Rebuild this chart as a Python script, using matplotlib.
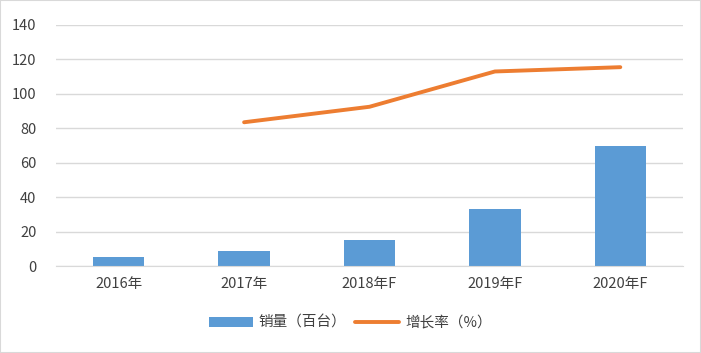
import matplotlib
matplotlib.use("Agg")
import matplotlib.pyplot as plt
from matplotlib.patches import Rectangle

plt.rcParams['font.family'] = ['Noto Sans CJK SC', 'DejaVu Sans']

categories = ["2016年", "2017年", "2018年F", "2019年F", "2020年F"]
sales = [5, 8.5, 15, 33, 69.5]
growth = [None, 83.5, 92.5, 113, 115.5]
yticks = [0, 20, 40, 60, 80, 100, 120, 140]

fig = plt.figure(figsize=(7.01, 3.53), dpi=100)
ax = fig.add_axes([56/701, 1-266/353, (683-56)/701, (266-25)/353])

x = list(range(len(categories)))
bars = ax.bar(x, sales, width=0.41, color='#5B9BD5', label='销量（百台）', zorder=2)
gx = [i for i, g in zip(x, growth) if g is not None]
gy = [g for g in growth if g is not None]
line, = ax.plot(gx, gy, color='#ED7D31', linewidth=2.8, label='增长率（%）', zorder=3,
                solid_capstyle='round')

ax.set_xlim(-0.5, len(categories) - 0.5)
ax.set_ylim(0, 140)
ax.set_yticks(yticks)
ax.set_xticks(x)
ax.set_xticklabels(categories)
ax.yaxis.grid(True, color='#D9D9D9', linewidth=1, zorder=0)
for s in ['top', 'right', 'left']:
    ax.spines[s].set_visible(False)
ax.spines['bottom'].set_color('#D9D9D9')
ax.tick_params(axis='both', length=0, colors='#404040', labelsize=10.5)
ax.tick_params(axis='x', pad=8)
ax.tick_params(axis='y', pad=14)

fig.legend([bars, line], ['销量（百台）', '增长率（%）'], loc='center',
           bbox_to_anchor=(0.5, 1-323/353), ncol=2, frameon=False,
           fontsize=10.5, handlelength=3, columnspacing=0.6, handletextpad=0.4,
           labelcolor='#404040')

fig.patches.append(Rectangle((0, 0), 1, 1, transform=fig.transFigure,
                             fill=False, edgecolor='#D9D9D9', linewidth=1.5))

fig.savefig('out.png', dpi=100)
